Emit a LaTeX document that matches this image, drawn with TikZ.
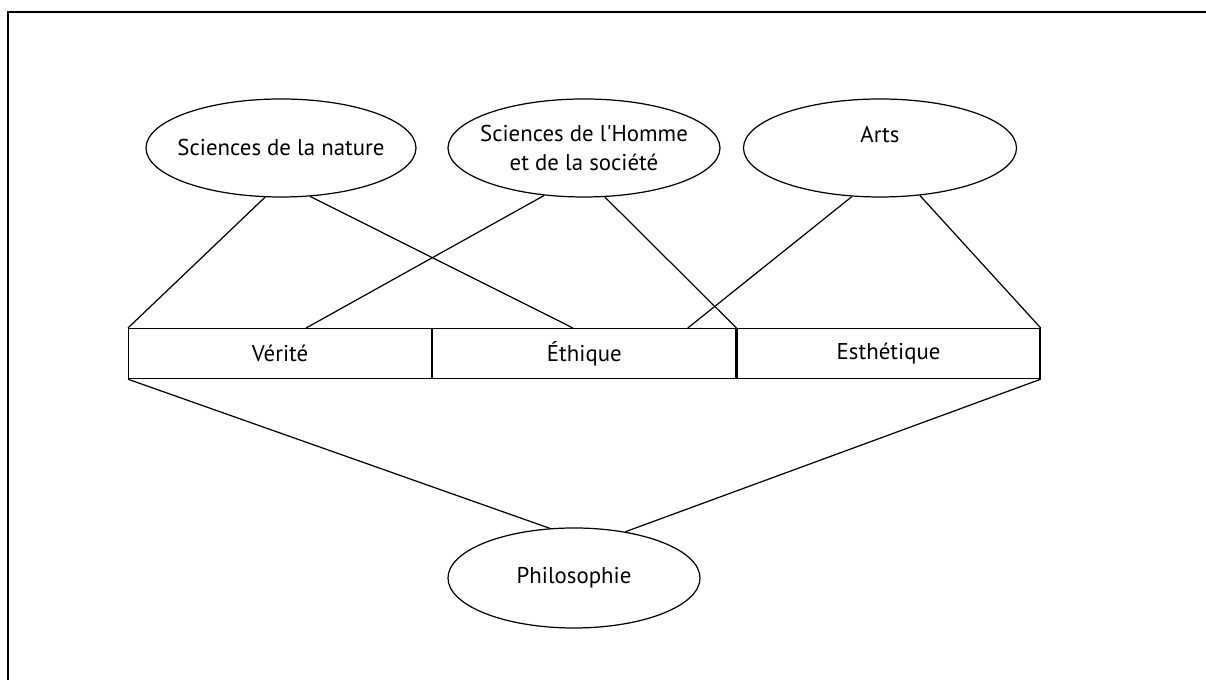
\documentclass[tikz,border=0pt]{standalone}
\usepackage{fontspec}
\setmainfont{PT Sans}
\usepackage{tikz}
\usetikzlibrary{positioning,shapes.geometric,calc}

\begin{document}
\begin{tikzpicture}[line width=0.7pt,
  field/.style={draw, ellipse, inner xsep=-1cm, inner ysep=0pt, minimum width=5.44cm, minimum height=1.96cm, align=center, font=\fontsize{13}{16}\selectfont},
  cell/.style={draw, rectangle, minimum width=6.06cm, minimum height=1cm, font=\fontsize{13}{16}\selectfont}]
  \useasboundingbox (0,0) rectangle (24.12,13.6);
  % frame (cut off at right and bottom)
  \draw[line width=1.2pt] (0.16,0) -- (0.16,13.36) -- (24.12,13.36);
  % the three fields
  \node[field, minimum width=5.4cm] (nature) at (5.62,10.64) {Sciences de la nature};
  \node[field] (homme) at (11.68,10.64) {Sciences de l\textquotesingle Homme\\et de la société};
  \node[field, minimum width=5.46cm] (arts) at (17.6,10.64) {Arts\\\phantom{x}};
  % the bar of values
  \node[cell, anchor=north west] (verite) at (2.56,7.04) {\raisebox{-2pt}{Vérité}};
  \node[cell, right=0pt of verite] (ethique) {\raisebox{-2pt}{Éthique}};
  \node[cell, right=0pt of ethique] (esthetique) {Esthétique};
  \node[field, minimum width=5.04cm, minimum height=2cm] (philo) at (11.48,2.04) {Philosophie};
  % links
  \draw (nature.252) -- (verite.north west);
  \draw (nature.301) -- ($(ethique.north)+(-0.23,0)$);
  \draw (homme.230) -- ($(verite.north)+(0.52,0)$);
  \draw (homme.293) -- (ethique.north east);
  \draw (arts.240) -- ($(ethique.north)+(2.07,0)$);
  \draw (arts.310) -- (esthetique.north east);
  \draw (verite.south west) -- (philo.116);
  \draw (esthetique.south east) -- (philo.42);
\end{tikzpicture}
\end{document}
